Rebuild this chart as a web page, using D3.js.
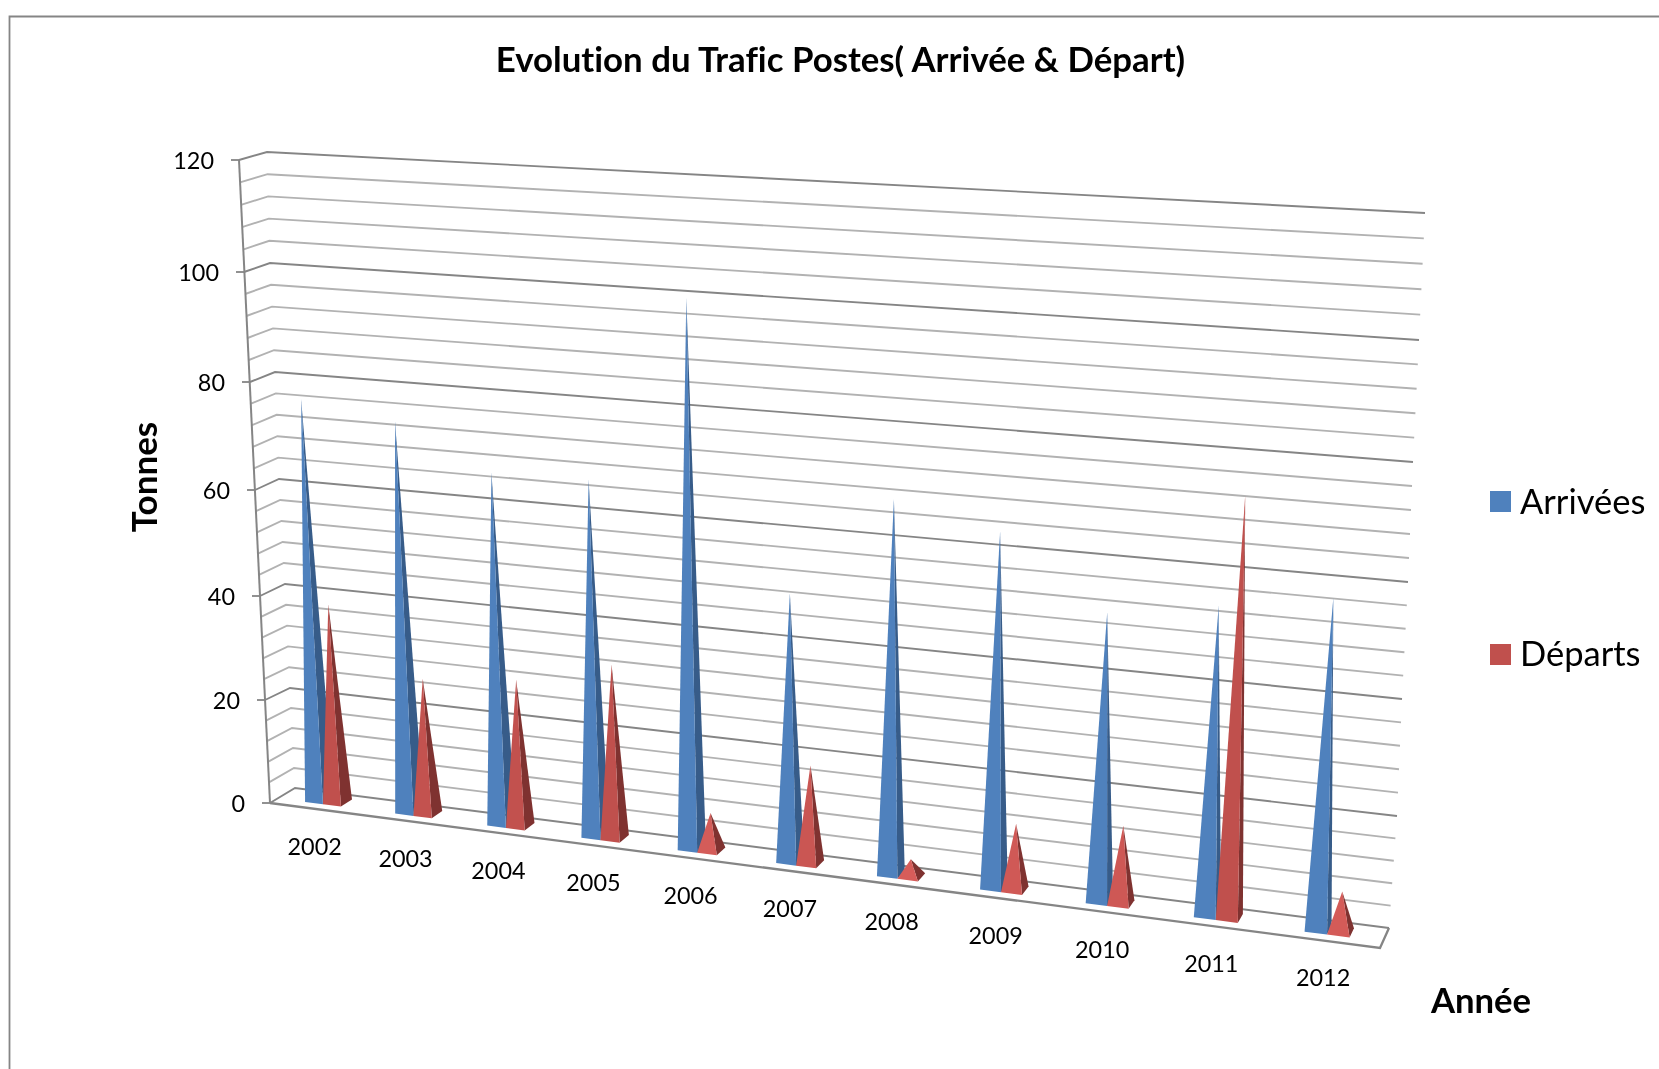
<!DOCTYPE html>
<html><head><meta charset="utf-8">
<script src="https://cdn.jsdelivr.net/npm/d3@7/dist/d3.min.js"></script>
<style>html,body{margin:0;padding:0;background:#fff;overflow:hidden}svg{display:block;filter:blur(0.45px)}text{font-family:Lato,"Open Sans",sans-serif;fill:#000;font-variant-ligatures:none}</style>
</head><body><svg id="c" width="1659" height="1069"></svg>
<script>
const years=["2002","2003","2004","2005","2006","2007","2008","2009","2010","2011","2012"];
const arrivees=[76.4,73.6,65.8,66.1,99.6,49,67.4,63.4,51.1,54.1,57.3];
const departs=[38.2,26,27.8,32.6,7,18.2,3.1,12,14,73.1,7.1];
const majorTicks=[0,20,40,60,80,100,120];
const minorStep=4;
const seriesNames=["Arrivées","Départs"];

const svg=d3.select("#c");
// four vertical edges of the 3D box, as scales of value
const edge=(xs,ys)=>({x:d3.scaleLinear().domain(majorTicks).range(xs),y:d3.scaleLinear().domain(majorTicks).range(ys)});
const FL=edge([270,265,260,255,250,244,239],[803,700,596,490,382,272,160]);
const BL=edge([295,290,285,279,275,270,267],[788,688,584,479,372,263,152]);
const BR=edge([1389,1397,1402,1408,1413,1419,1425],[928,816,699,582,462,340,213]);
const FR=edge([1380,1388,1393,1399,1405,1411,1417],[948,834,715,596,474,350,221]);
const k=1.135;
const warp=u=>u/(u+(1-u)*k);
const cat=d3.scaleLinear().domain([0,years.length]).range([0,1]);
const depth=d3.scaleLinear().domain([0,1]).range([0,1]);
function P(i,v,w){ // i: band position, v: value, w: depth 0 front..1 back
  const t=warp(cat(i)),d=depth(w);
  const x0=FL.x(v)+(BL.x(v)-FL.x(v))*d,y0=FL.y(v)+(BL.y(v)-FL.y(v))*d;
  const x1=FR.x(v)+(BR.x(v)-FR.x(v))*d,y1=FR.y(v)+(BR.y(v)-FR.y(v))*d;
  return [x0+(x1-x0)*t,y0+(y1-y0)*t];
}
const line=d3.line();
const minor=d3.range(0,121,minorStep);
// frame
svg.append("path").attr("d","M9.5,1069V16.5H1659").attr("fill","none").attr("stroke","#858585").attr("stroke-width",1.8);
// gridlines
minor.filter(v=>v>0).concat([0]).forEach(v=>{
  const maj=v%20===0;
  svg.append("path").attr("d",line([P(0,v,0),P(0,v,1),P(years.length,v,1)]))
    .attr("fill","none").attr("stroke",maj?"#858585":"#b2b2b2").attr("stroke-width",1.9);
});
// floor
svg.append("path").attr("d",line([P(0,0,0),P(years.length,0,0),P(years.length,0,1)]))
  .attr("fill","none").attr("stroke","#858585").attr("stroke-width",2.3);
// value axis
svg.append("path").attr("d",line([P(0,0,0),P(0,120,0)])).attr("fill","none").attr("stroke","#858585").attr("stroke-width",2);
majorTicks.forEach(v=>{
  const p=P(0,v,0);
  svg.append("line").attr("x1",p[0]-8).attr("x2",p[0]).attr("y1",p[1]).attr("y2",p[1]).attr("stroke","#858585").attr("stroke-width",1.8);
  svg.append("text").attr("x",p[0]-25).attr("y",p[1]+1).attr("dy","0.36em").attr("text-anchor","end").attr("font-size",23.4).text(v);
});
// pyramids
const cols=[{f:"#4f81bd",s:"#375c89",a:"#4f81bd"},{f:"#c0504d",s:"#7f3230",a:"#da5f5c"}];
const brightness=d3.scaleLinear().domain([0,30]).range([1,0]).clamp(true);
const wFront=0.31,wBack=0.77,barW=0.2;
function pyramid(i,v,s){
  const c=cols[s];
  const a=i+0.5+(s-1)*barW+0.008, b=a+barW;
  const apex=P((a+b)/2-0.008,v,(wFront+wBack)/2);
  const fill=d3.interpolateRgb(c.f,c.a)(brightness(v));
  const fl=P(a,0,wFront),fr=P(b,0,wFront),br=P(b,0,wBack);
  svg.append("path").attr("d",line([fr,br,apex])+"Z").attr("fill",c.s);
  svg.append("path").attr("d",line([fl,fr,apex])+"Z").attr("fill",fill);
}
years.forEach((y,i)=>{
  pyramid(i,arrivees[i],0);
  pyramid(i,departs[i],1);
});
// category labels
years.forEach((y,i)=>{
  const p=P(i+0.5,0,0);
  svg.append("text").attr("x",p[0]).attr("y",p[1]+37.5).attr("dy","0.36em").attr("text-anchor","middle").attr("font-size",23.4).text(y);
});
// titles
svg.append("text").attr("x",840.5).attr("y",72).attr("text-anchor","middle").attr("font-size",34.8).attr("font-weight",700).text("Evolution du Trafic Postes( Arrivée & Départ)");
svg.append("text").attr("transform","translate(157,477) rotate(-90)").attr("text-anchor","middle").attr("font-size",35).attr("font-weight",700).text("Tonnes");
svg.append("text").attr("x",1481).attr("y",1013).attr("text-anchor","middle").attr("font-size",34.7).attr("font-weight",700).text("Année");
// legend
const legendY=d3.scalePoint().domain(seriesNames).range([501.5,654.5]);
seriesNames.forEach((n,s)=>{
  svg.append("rect").attr("x",1490).attr("y",legendY(n)-10.5).attr("width",21).attr("height",21).attr("fill",cols[s].f);
  svg.append("text").attr("x",1520).attr("y",legendY(n)-s).attr("dy","0.36em").attr("font-size",34.5).text(n);
});
</script></body></html>
